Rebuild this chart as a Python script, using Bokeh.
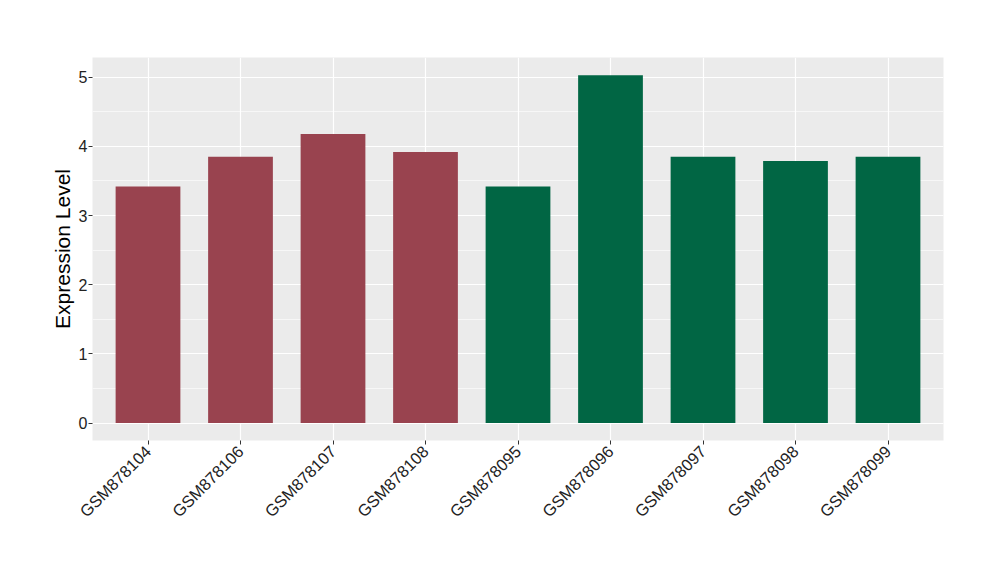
from bokeh.plotting import figure
from bokeh.models import FactorRange, Range1d, ColumnDataSource, SingleIntervalTicker
from bokeh.embed import file_html
from bokeh.resources import INLINE
import math

samples = ["GSM878104", "GSM878106", "GSM878107", "GSM878108", "GSM878095",
           "GSM878096", "GSM878097", "GSM878098", "GSM878099"]
values = [3.42, 3.85, 4.18, 3.92, 3.42, 5.03, 3.85, 3.79, 3.85]
groups = ["a", "a", "a", "a", "b", "b", "b", "b", "b"]
group_colors = {"a": "#99434F", "b": "#016644"}

src = ColumnDataSource(dict(x=samples, top=values,
                            color=[group_colors[g] for g in groups]))

p = figure(width=984, height=564, output_backend="svg", toolbar_location=None,
           x_range=FactorRange(*samples, range_padding=0.1, range_padding_units="absolute"),
           y_range=Range1d(-0.2517, 5.285),
           min_border_left=92, min_border_right=41, min_border_top=57, min_border_bottom=124)
p.vbar(x="x", top="top", width=0.7, fill_color="color", line_color=None, source=src)

p.background_fill_color = "#EBEBEB"
p.border_fill_color = "white"
p.outline_line_color = None

p.yaxis.ticker = SingleIntervalTicker(interval=1, num_minor_ticks=2)
p.ygrid.grid_line_color = "white"
p.ygrid.grid_line_width = 1.2
p.ygrid.minor_grid_line_color = "white"
p.ygrid.minor_grid_line_width = 0.6
p.xgrid.grid_line_color = "white"
p.xgrid.grid_line_width = 1.2

for ax in (p.xaxis, p.yaxis):
    ax.axis_line_color = None
    ax.major_tick_line_color = "#333333"
    ax.major_tick_in = 0
    ax.major_tick_out = 4
    ax.minor_tick_line_color = None
    ax.major_label_text_font = "Liberation Sans"
    ax.major_label_text_font_size = "16px"
    ax.major_label_text_color = "#222222"

p.xaxis.major_label_text_font_size = "16.5px"
p.xaxis.major_label_orientation = math.pi / 4
p.xaxis.major_label_standoff = 4
p.yaxis.major_label_standoff = 1
p.yaxis.axis_label = "Expression Level"
p.yaxis.axis_label_text_font = "Liberation Sans"
p.yaxis.axis_label_text_font_size = "21px"
p.yaxis.axis_label_text_font_style = "normal"
p.yaxis.axis_label_text_color = "black"
p.yaxis.axis_label_standoff = 2

open("out.html", "w").write(file_html(p, INLINE))
